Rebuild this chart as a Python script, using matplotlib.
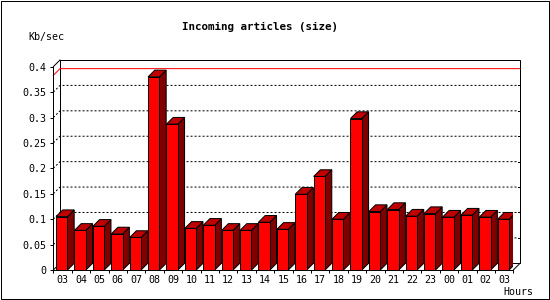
import numpy as np
import matplotlib
matplotlib.use("Agg")
import matplotlib.pyplot as plt
from matplotlib.patches import Polygon, Rectangle

# datos
horas = ["03", "04", "05", "06", "07", "08", "09", "10", "11", "12", "13", "14", "15",
         "16", "17", "18", "19", "20", "21", "22", "23", "00", "01", "02", "03"]
kbsec = [0.105, 0.078, 0.086, 0.071, 0.064, 0.380, 0.287, 0.082, 0.088, 0.078, 0.078, 0.094,
         0.080, 0.149, 0.184, 0.100, 0.298, 0.115, 0.119, 0.106, 0.111, 0.104, 0.108, 0.104, 0.100]
linea_max = 0.383
yticks = [0, 0.05, 0.1, 0.15, 0.2, 0.25, 0.3, 0.35, 0.4]
ytick_labels = ["0", "0.05", "0.1", "0.15", "0.2", "0.25", "0.3", "0.35", "0.4"]

plt.rcParams['font.family'] = ['DejaVu Sans Mono']

W, H = 550, 300
fig = plt.figure(figsize=(W / 100, H / 100), dpi=100)
# area frontal del grafico en pixeles
x0, x1 = 53.3, 513.3
y_bot, y_top = 270.0, 66.7
ax = fig.add_axes([x0 / W, 1 - y_bot / H, (x1 - x0) / W, (y_bot - y_top) / H])

n = len(horas)
ymax = 0.4
ax.set_xlim(0, n)
ax.set_ylim(0, ymax)

# profundidad 3d (pixeles -> unidades de datos)
prof = 6.7
dx = prof / ((x1 - x0) / n)
dy = prof / ((y_bot - y_top) / ymax)

ancho = 0.62
margen = 0.15
lw = 0.72  # 1 pixel

for s in ax.spines.values():
    s.set_visible(False)

# pared del fondo
ax.add_patch(Rectangle((dx, dy), n, ymax, fill=False, edgecolor='black', lw=lw, clip_on=False, zorder=1))
ax.plot([0, dx], [ymax, ymax + dy], color='black', lw=lw, clip_on=False, zorder=1)
ax.plot([n, n + dx], [0, dy], color='black', lw=lw, clip_on=False, zorder=1)
ax.plot([0, dx], [0, dy], color='black', lw=lw, clip_on=False, zorder=1)

# lineas de rejilla punteadas
for v in yticks[1:-1]:
    ax.plot([0, dx, n + dx - 0.1], [v, v + dy, v + dy], color='black', lw=lw,
            linestyle=(0, (2, 2)), clip_on=False, zorder=1)
    ax.plot([n + dx - 0.12, n + dx], [v + dy, v + dy], color='black', lw=lw, clip_on=False, zorder=1)

# linea roja
ax.plot([0, dx, n + dx], [linea_max, linea_max + dy, linea_max + dy], color='#ff0000', lw=lw,
        clip_on=False, zorder=1.5)

# barras 3d
for i, v in enumerate(kbsec):
    xa = i + margen
    xb = xa + ancho
    piso = Polygon([(xa, 0), (xb, 0), (xb + dx, dy), (xa + dx, dy)], closed=True,
                   facecolor='#909090', edgecolor='none', zorder=2)
    lado = Polygon([(xb, 0), (xb + dx, dy), (xb + dx, v + dy), (xb, v)], closed=True,
                   facecolor='#800000', edgecolor='black', lw=lw, zorder=2)
    tapa = Polygon([(xa, v), (xb, v), (xb + dx, v + dy), (xa + dx, v + dy)], closed=True,
                   facecolor='#c00000', edgecolor='black', lw=lw, zorder=2)
    ax.add_patch(piso)
    ax.add_patch(lado)
    ax.add_patch(tapa)
ax.bar(np.arange(n) + margen, kbsec, width=ancho, align='edge', color='#ff0000',
       edgecolor='black', lw=lw, zorder=3)

# ejes frontales
ax.plot([0, 0], [0, ymax], color='black', lw=lw, clip_on=False, zorder=4)
ax.plot([0, n], [0, 0], color='black', lw=lw, clip_on=False, zorder=4)

ax.set_yticks(yticks)
ax.set_yticklabels(ytick_labels)
ax.set_xticks(np.arange(n + 1))
ax.set_xticklabels([])
ax.set_xticks(np.arange(n) + 0.5, minor=True)
ax.set_xticklabels(horas, minor=True)
ax.tick_params(axis='y', direction='out', length=2.2, width=lw, pad=3, labelsize=7.2)
ax.tick_params(axis='x', which='major', direction='out', length=2.2, width=lw)
ax.tick_params(axis='x', which='minor', length=0, pad=3.6, labelsize=7.2)

fig.text(260.5 / W, 1 - 26.7 / H, "Incoming articles (size)", ha='center', va='center',
         fontsize=7.8, fontweight='bold')
fig.text(28 / W, 1 - 37.3 / H, "Kb/sec", ha='left', va='center', fontsize=7.2)
fig.text(533 / W, 1 - 291.7 / H, "Hours", ha='right', va='center', fontsize=7.2)

fig.patches.append(Rectangle((0.5 / W, 1.5 / H), 548 / W, 298 / H, transform=fig.transFigure,
                             fill=False, edgecolor='black', lw=lw))

fig.savefig('out.png', dpi=100)
